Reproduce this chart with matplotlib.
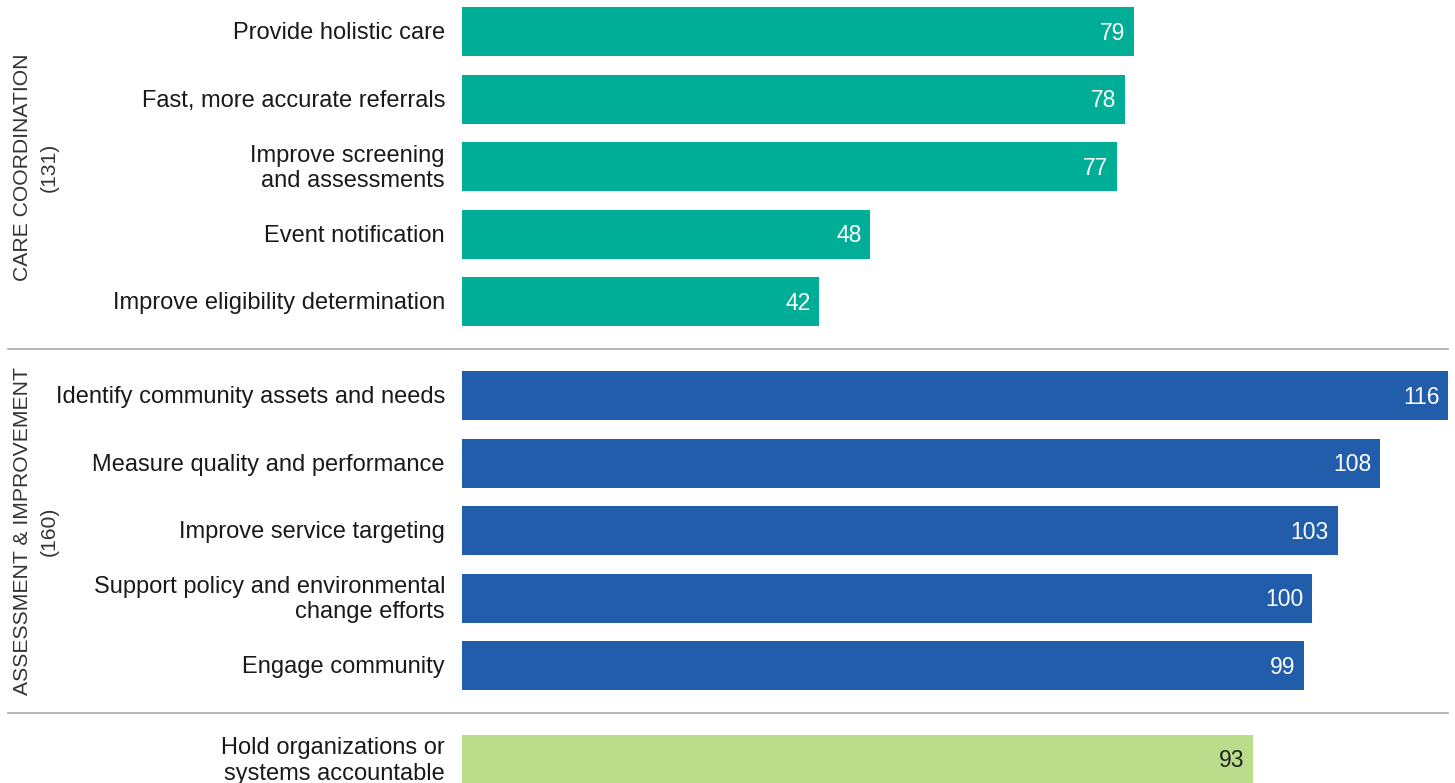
import matplotlib.pyplot as plt
from matplotlib.transforms import blended_transform_factory

plt.rcParams['font.family'] = ['Liberation Sans', 'DejaVu Sans']

# ---- data ----
care_labels = ["Provide holistic care", "Fast, more accurate referrals",
               "Improve screening\nand assessments", "Event notification",
               "Improve eligibility determination"]
care_values = [79, 78, 77, 48, 42]

assess_labels = ["Identify community assets and needs", "Measure quality and performance",
                 "Improve service targeting", "Support policy and environmental\nchange efforts",
                 "Engage community"]
assess_values = [116, 108, 103, 100, 99]

account_labels = ["Hold organizations or\nsystems accountable"]
account_values = [93]

group_titles = ["CARE COORDINATION\n(131)", "ASSESSMENT & IMPROVEMENT\n(160)", None]
group_labels = [care_labels, assess_labels, account_labels]
group_values = [care_values, assess_values, account_values]
group_colors = ["#00AE97", "#215DAB", "#BBDC8A"]
value_colors = ["white", "white", "#222222"]

# ---- figure ----
fig = plt.figure(figsize=(14.55, 7.83), dpi=100)
ax = fig.add_axes([462 / 1455, 0, 986 / 1455, 1])
ax.set_xlim(0, 116)
ax.set_ylim(11.126, -0.474)
ax.axis('off')

mixed = blended_transform_factory(fig.transFigure, ax.transData)
gap = 0.39
offset = 0.0

for g in range(len(group_labels)):
    labels = group_labels[g]
    values = group_values[g]
    pos = [offset + i for i in range(len(values))]

    ax.barh(pos, values, height=0.726, color=group_colors[g])

    for p, lab, v in zip(pos, labels, values):
        ax.text(-2.0, p + 0.02, lab, ha='right', va='center', fontsize=17,
                color='#1a1a1a', linespacing=1.2, clip_on=False)
        ax.text(v - 1.0, p + 0.02, str(v), ha='right', va='center', fontsize=16.5,
                color=value_colors[g])

    # group title on the left, rotated
    if group_titles[g]:
        ax.text(36 / 1455, offset + (len(values) - 1) / 2, group_titles[g],
                transform=mixed, rotation=90, ha='center', va='center',
                multialignment='center', fontsize=15.2, color='#333333',
                linespacing=1.55, clip_on=False)

    # separator between groups
    if g < len(group_labels) - 1:
        sep = offset + len(values) - 1 + (1 + gap) / 2
        ax.plot([8 / 1455, 1448 / 1455], [sep, sep], transform=mixed,
                color='#aaaaaa', lw=1.2, clip_on=False)

    offset += len(values) + gap

fig.savefig("out.png", dpi=100)
